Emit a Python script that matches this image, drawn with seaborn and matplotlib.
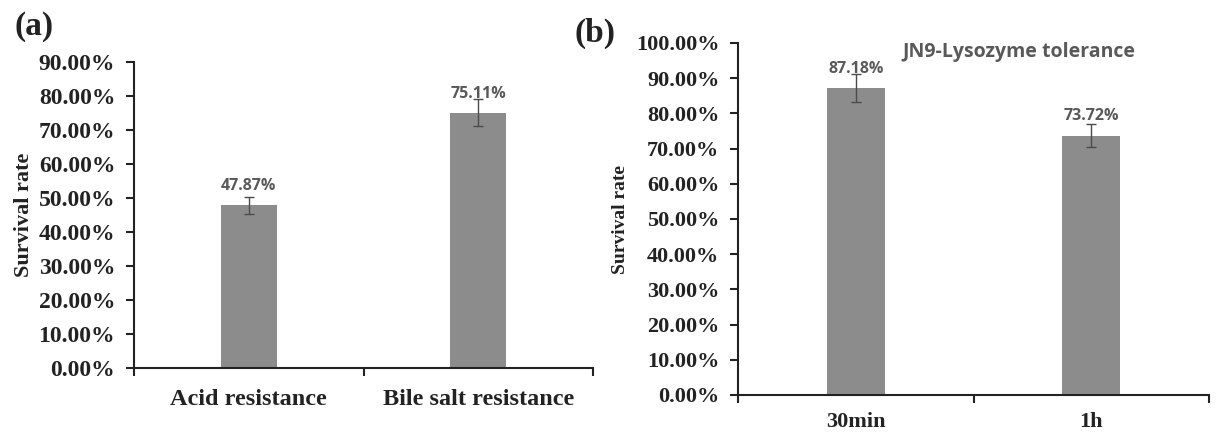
import matplotlib
matplotlib.use("Agg")
import matplotlib.pyplot as plt
import seaborn as sns
from matplotlib.ticker import PercentFormatter, MultipleLocator, FixedLocator

# ---- data ----
cats_a = ["Acid resistance", "Bile salt resistance"]
vals_a = [47.87, 75.11]
errs_a = [2.5, 4.0]
labels_a = ["47.87%", "75.11%"]

cats_b = ["30min", "1h"]
vals_b = [87.18, 73.72]
errs_b = [4.0, 3.4]
labels_b = ["87.18%", "73.72%"]

title_b = "JN9-Lysozyme tolerance"
ylabel = "Survival rate"

sns.set_style("ticks")
plt.rcParams["font.family"] = ["Liberation Serif", "DejaVu Serif"]

BAR = "#8c8c8c"
ERR = "#4a4a4a"
LBL = "#595959"
AX = "#222222"

fig = plt.figure(figsize=(12.16, 4.37), dpi=100)
ax_a = fig.add_axes([134/1216, 1-368/437, (593-134)/1216, (368-62)/437])
ax_b = fig.add_axes([738/1216, 1-395/437, (1209-738)/1216, (395-43)/437])


def draw(ax, cats, vals, errs, labels, ymax, tick_fs, ylab_fs, xlab_fs, xpad, ylpad):
    sns.barplot(x=cats, y=vals, color=BAR, width=0.246, ax=ax,
                saturation=1, edgecolor="none", errorbar=None)
    ax.errorbar(range(len(cats)), vals, yerr=errs, fmt="none",
                ecolor=ERR, elinewidth=1.0, capsize=3.5, capthick=1.0, zorder=3)
    for i, (v, t) in enumerate(zip(vals, labels)):
        ax.annotate(t, (i, v), xytext=(0, 8), textcoords="offset points",
                    ha="center", va="bottom", fontsize=11.5, color=LBL,
                    fontweight="bold", family=["Open Sans", "DejaVu Sans"])
    ax.set_xlim(-0.5, len(cats) - 0.5)
    ax.set_ylim(0, ymax)
    ax.yaxis.set_major_locator(MultipleLocator(10))
    ax.yaxis.set_major_formatter(PercentFormatter(xmax=100, decimals=2))
    ax.set_xticks(range(len(cats)))
    ax.set_xticklabels(cats, fontsize=xlab_fs, fontweight="bold")
    ax.xaxis.set_minor_locator(FixedLocator([-0.5 + k for k in range(len(cats) + 1)]))
    ax.tick_params(axis="x", which="major", length=0, pad=xpad, colors=AX)
    ax.tick_params(axis="x", which="minor", length=6, width=1.5, direction="out", color=AX)
    ax.tick_params(axis="y", which="major", length=6, width=1.5, direction="out",
                   labelsize=tick_fs, color=AX, labelcolor=AX, pad=7.5)
    for lab in ax.get_yticklabels():
        lab.set_fontweight("bold")
    for s in ["top", "right"]:
        ax.spines[s].set_visible(False)
    for s in ["left", "bottom"]:
        ax.spines[s].set_linewidth(1.5)
        ax.spines[s].set_color(AX)
    ax.set_xlabel("")
    ax.set_ylabel(ylabel, fontsize=ylab_fs, fontweight="bold", color=AX, labelpad=ylpad)


draw(ax_a, cats_a, vals_a, errs_a, labels_a, 90, 17, 16, 17.5, 15, 3)
draw(ax_b, cats_b, vals_b, errs_b, labels_b, 100, 16, 14, 16, 12, 5)

ax_b.text(0.597, 0.974, title_b, transform=ax_b.transAxes, ha="center", va="center",
          fontsize=14, fontweight="bold", color=LBL, family=["Open Sans", "DejaVu Sans"])

fig.text(15/1216, 1-11/437, "(a)", ha="left", va="top", fontsize=24,
         fontweight="bold", color=AX)
fig.text(574/1216, 1-18/437, "(b)", ha="left", va="top", fontsize=24,
         fontweight="bold", color=AX)

fig.savefig("out.png", dpi=100)
